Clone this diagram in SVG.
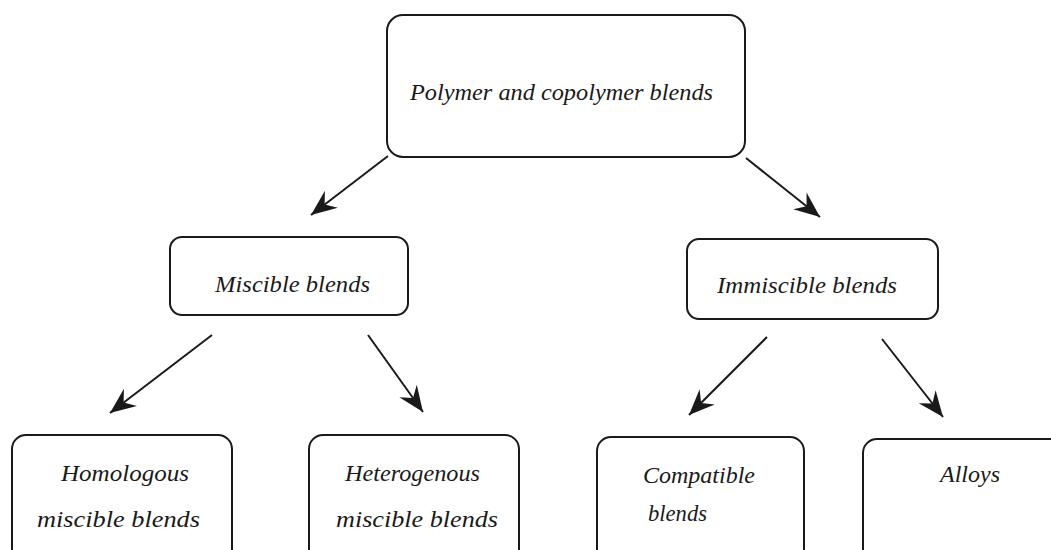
<svg xmlns="http://www.w3.org/2000/svg" width="1051" height="550" viewBox="0 0 1051 550">
<style>
.box{fill:#fff;stroke:#1a1a1a;stroke-width:2}
.lbl{font-family:"Liberation Serif","DejaVu Serif",serif;font-style:italic;font-size:24px;fill:#1a1a1a}
.conn{stroke:#1a1a1a;stroke-width:2;fill:none;marker-end:url(#ah)}
</style>
<defs>
<marker id="ah" markerUnits="userSpaceOnUse" markerWidth="30" markerHeight="30" viewBox="-26 -13 28 26" refX="0" refY="0" orient="auto">
<path d="M0,0 L-24,-10 L-16,0 L-24,10 Z" fill="#1a1a1a"/>
</marker>
</defs>
<rect width="1051" height="550" fill="#fff"/>
<g id="connectors">
<line class="conn" x1="388" y1="156" x2="311" y2="215"/>
<line class="conn" x1="746" y1="158" x2="820" y2="217"/>
<line class="conn" x1="212" y1="335" x2="110" y2="413"/>
<line class="conn" x1="368" y1="335" x2="423" y2="412"/>
<line class="conn" x1="767" y1="337" x2="689" y2="415"/>
<line class="conn" x1="882" y1="339" x2="943" y2="417"/>
</g>
<g id="root">
<rect class="box" x="387" y="15" width="358" height="142" rx="16"/>
<text class="lbl" x="410" y="100" textLength="303" lengthAdjust="spacingAndGlyphs">Polymer and copolymer blends</text>
</g>
<g id="miscible">
<rect class="box" x="170" y="237" width="238" height="78" rx="12"/>
<text class="lbl" x="215" y="292" textLength="155" lengthAdjust="spacingAndGlyphs">Miscible blends</text>
</g>
<g id="immiscible">
<rect class="box" x="687" y="239" width="251" height="80" rx="12"/>
<text class="lbl" x="717" y="293" textLength="180" lengthAdjust="spacingAndGlyphs">Immiscible blends</text>
</g>
<g id="homologous">
<rect class="box" x="12" y="435" width="220" height="140" rx="14"/>
<text class="lbl" x="61" y="481" textLength="128" lengthAdjust="spacingAndGlyphs">Homologous</text>
<text class="lbl" x="37" y="527" textLength="163" lengthAdjust="spacingAndGlyphs">miscible blends</text>
</g>
<g id="heterogenous">
<rect class="box" x="309" y="435" width="210" height="140" rx="14"/>
<text class="lbl" x="345" y="481" textLength="135" lengthAdjust="spacingAndGlyphs">Heterogenous</text>
<text class="lbl" x="336" y="527" textLength="162" lengthAdjust="spacingAndGlyphs">miscible blends</text>
</g>
<g id="compatible">
<rect class="box" x="597" y="437" width="207" height="140" rx="14"/>
<text class="lbl" x="643" y="483" textLength="112" lengthAdjust="spacingAndGlyphs">Compatible</text>
<text class="lbl" x="648" y="521" textLength="59" lengthAdjust="spacingAndGlyphs">blends</text>
</g>
<g id="alloys">
<rect class="box" x="863" y="439" width="220" height="140" rx="14"/>
<text class="lbl" x="940" y="482" textLength="60" lengthAdjust="spacingAndGlyphs">Alloys</text>
</g>
</svg>
